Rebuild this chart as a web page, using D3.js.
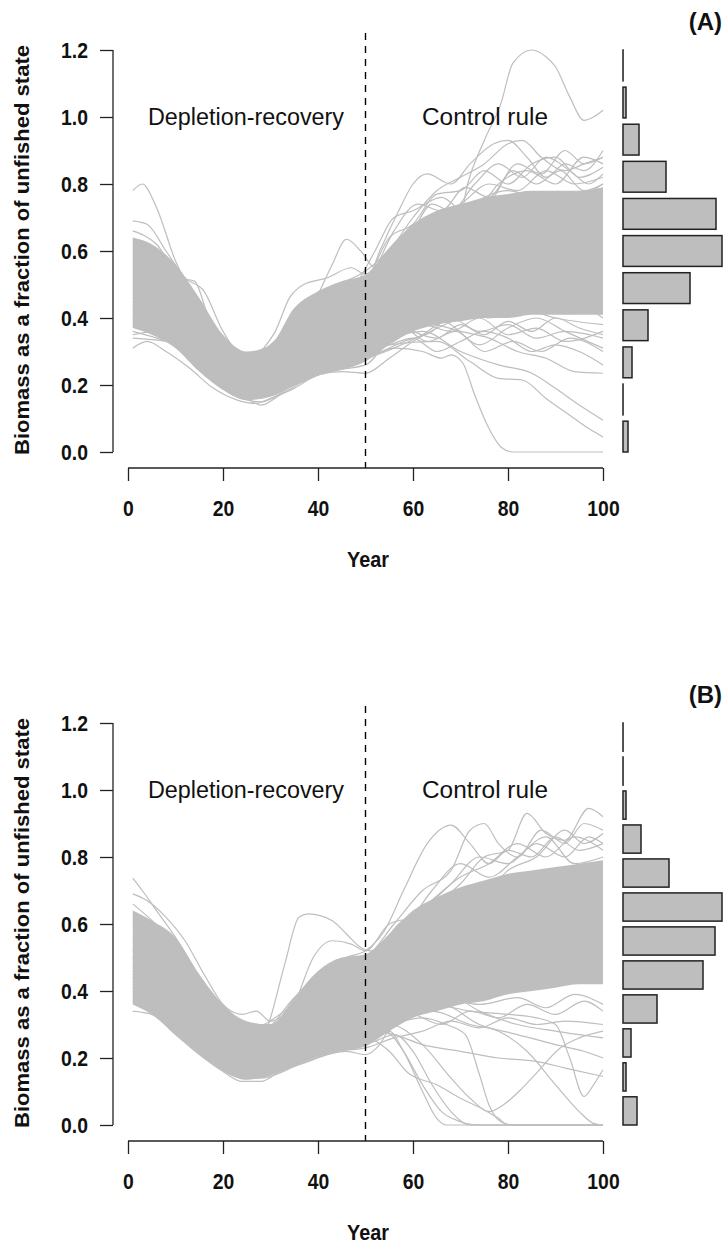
<!DOCTYPE html>
<html>
<head>
<meta charset="utf-8">
<script src="https://cdn.jsdelivr.net/npm/d3@7"></script>
<style>
  body { margin: 0; background: #fff; }
  svg { display: block; }
  text { font-family: "Liberation Sans", Arial, sans-serif; }
</style>
</head>
<body>
<svg id="chart" width="727" height="1245"></svg>
<script>
// ---- data ----
const knotYears = [1, 5, 10, 15, 20, 25, 30, 35, 40, 45, 50, 55, 60, 65, 70, 75, 80, 85, 90, 95, 100];
const yTicks = [0, 0.2, 0.4, 0.6, 0.8, 1.0, 1.2];
const xTicks = [0, 20, 40, 60, 80, 100];

// dense core of the trajectories (panel A)
const coreLowA  = [0.37, 0.35, 0.31, 0.24, 0.185, 0.155, 0.165, 0.20, 0.23, 0.245, 0.27, 0.32, 0.36, 0.38, 0.39, 0.40, 0.40, 0.41, 0.41, 0.41, 0.41];
const coreHighA = [0.64, 0.62, 0.56, 0.46, 0.35, 0.30, 0.32, 0.43, 0.48, 0.51, 0.53, 0.61, 0.68, 0.72, 0.74, 0.76, 0.77, 0.78, 0.78, 0.78, 0.79];

// visible individual runs, [year, biomass]
const runsA = [
  [[1,0.78],[3,0.80],[6,0.73],[10,0.57],[15,0.44],[20,0.33],[25,0.27],[30,0.30],[40,0.42],[50,0.50],[60,0.60],[70,0.66],[80,0.68],[90,0.64],[100,0.66]],
  [[1,0.69],[4,0.68],[8,0.60],[12,0.52],[16,0.48],[20,0.36],[25,0.28],[30,0.30],[40,0.45],[50,0.48],[60,0.55],[70,0.62],[80,0.70],[90,0.72],[100,0.70]],
  [[1,0.66],[6,0.62],[11,0.52],[14,0.51],[17,0.40],[22,0.30],[26,0.28],[30,0.32],[40,0.47],[50,0.52],[60,0.62],[70,0.72],[80,0.78],[90,0.74],[100,0.80]],
  [[1,0.31],[4,0.33],[8,0.30],[13,0.25],[18,0.19],[23,0.155],[27,0.145],[30,0.16],[35,0.19],[40,0.23],[45,0.24],[50,0.235],[55,0.28],[60,0.33],[70,0.40],[80,0.44],[90,0.40],[100,0.38]],
  [[1,0.36],[6,0.34],[10,0.32],[15,0.25],[20,0.19],[25,0.16],[28,0.14],[32,0.17],[38,0.22],[44,0.26],[50,0.28],[56,0.31],[62,0.30],[66,0.28],[68,0.29],[70.5,0.265],[73,0.17],[76,0.07],[78.5,0.015],[81,0.0],[90,0.0],[100,0.0]],
  [[1,0.55],[10,0.45],[20,0.28],[25,0.25],[30,0.29],[35,0.36],[40,0.47],[43,0.56],[46,0.635],[49,0.60],[52,0.55],[56,0.58],[60,0.66],[70,0.72],[80,0.74],[90,0.70],[100,0.72]],
  [[1,0.50],[10,0.42],[20,0.27],[24,0.24],[28,0.30],[31,0.36],[34,0.46],[37,0.50],[42,0.52],[47,0.55],[50,0.53],[55,0.60],[60,0.70],[65,0.78],[70,0.82],[75,0.86],[80,0.92],[83,0.93],[87,0.88],[92,0.84],[96,0.86],[100,0.88]],
  [[1,0.45],[10,0.38],[20,0.24],[26,0.20],[35,0.30],[45,0.40],[50,0.45],[56,0.52],[62,0.60],[66,0.64],[69,0.64],[71.5,0.80],[75,0.93],[78.5,1.04],[81,1.16],[85,1.20],[88,1.18],[90,1.15],[93,1.06],[96,0.99],[98,1.00],[100,1.02]],
  [[1,0.60],[10,0.50],[20,0.30],[25,0.26],[30,0.30],[40,0.46],[50,0.50],[53,0.60],[57,0.72],[60,0.80],[63,0.83],[68,0.80],[72,0.86],[77,0.92],[80,0.93],[84,0.88],[88,0.82],[92,0.86],[96,0.84],[100,0.90]],
  [[1,0.58],[10,0.48],[20,0.30],[25,0.26],[30,0.28],[40,0.44],[50,0.51],[55,0.64],[60,0.68],[65,0.77],[70,0.78],[75,0.84],[80,0.80],[85,0.86],[90,0.88],[95,0.82],[100,0.85]],
  [[1,0.52],[10,0.44],[20,0.28],[28,0.22],[40,0.40],[48,0.50],[52,0.60],[56,0.70],[60,0.72],[66,0.76],[72,0.70],[78,0.80],[84,0.84],[90,0.80],[96,0.88],[100,0.86]],
  [[1,0.40],[10,0.34],[20,0.20],[25,0.17],[30,0.18],[40,0.25],[50,0.30],[55,0.32],[60,0.34],[65,0.30],[70,0.33],[75,0.36],[80,0.34],[85,0.30],[90,0.32],[95,0.30],[100,0.26]],
  [[1,0.42],[10,0.35],[20,0.21],[27,0.16],[35,0.21],[45,0.26],[52,0.30],[58,0.36],[64,0.38],[70,0.36],[76,0.34],[82,0.30],[88,0.28],[94,0.24],[100,0.235]],
  [[1,0.40],[10,0.33],[20,0.20],[25,0.17],[35,0.22],[45,0.28],[55,0.34],[62,0.36],[70,0.30],[78,0.26],[85,0.235],[90,0.19],[95,0.14],[100,0.095]],
  [[1,0.38],[10,0.32],[20,0.19],[26,0.16],[35,0.20],[45,0.26],[55,0.32],[65,0.33],[72,0.27],[78,0.22],[83,0.215],[88,0.16],[93,0.11],[97,0.07],[100,0.045]],
  [[1,0.44],[10,0.36],[20,0.22],[30,0.20],[40,0.26],[50,0.28],[56,0.31],[62,0.35],[68,0.40],[74,0.36],[80,0.38],[86,0.34],[92,0.36],[100,0.34]],
  [[1,0.62],[8,0.58],[15,0.42],[22,0.30],[28,0.27],[35,0.38],[42,0.48],[50,0.54],[58,0.64],[64,0.70],[70,0.74],[76,0.80],[82,0.78],[88,0.84],[94,0.80],[100,0.82]],
  [[1,0.34],[8,0.33],[15,0.26],[22,0.17],[28,0.15],[35,0.20],[42,0.24],[50,0.26],[56,0.36],[62,0.42],[68,0.38],[74,0.32],[80,0.37],[86,0.40],[92,0.36],[100,0.31]],
  [[1,0.48],[10,0.40],[20,0.26],[30,0.25],[40,0.38],[50,0.46],[55,0.55],[60,0.66],[64,0.74],[68,0.72],[73,0.80],[78,0.86],[83,0.82],[88,0.88],[93,0.84],[97,0.80],[100,0.83]],
  [[1,0.53],[10,0.44],[20,0.27],[30,0.27],[40,0.40],[50,0.49],[56,0.66],[61,0.74],[66,0.72],[71,0.79],[76,0.76],[81,0.84],[86,0.80],[91,0.84],[96,0.78],[100,0.80]],
  [[1,0.46],[10,0.38],[20,0.24],[30,0.24],[40,0.36],[50,0.42],[55,0.40],[60,0.36],[65,0.34],[70,0.38],[75,0.35],[80,0.39],[85,0.36],[90,0.40],[95,0.37],[100,0.35]],
  [[1,0.43],[10,0.36],[20,0.22],[30,0.22],[40,0.32],[50,0.36],[56,0.34],[62,0.38],[68,0.36],[74,0.40],[80,0.35],[86,0.37],[92,0.33],[100,0.36]],
  [[1,0.57],[10,0.47],[20,0.30],[30,0.28],[40,0.43],[50,0.48],[58,0.56],[64,0.62],[70,0.70],[76,0.74],[82,0.86],[87,0.83],[92,0.90],[96,0.86],[100,0.88]],
  [[1,0.41],[10,0.34],[20,0.21],[30,0.21],[40,0.30],[50,0.33],[57,0.38],[63,0.33],[69,0.36],[75,0.30],[81,0.33],[87,0.30],[93,0.34],[100,0.30]],
  [[1,0.35],[6,0.36],[12,0.30],[18,0.22],[24,0.17],[30,0.17],[38,0.24],[46,0.26],[52,0.29],[58,0.33],[64,0.36],[70,0.44],[76,0.40],[82,0.44],[88,0.42],[94,0.44],[100,0.40]]
];

// histogram of final biomass (panel A), bins of 0.1 from 0
const histCountsA = [5, 0, 9, 25, 67, 99, 93, 43, 16, 3, 0];

// panel B
const coreLowB  = [0.36, 0.33, 0.27, 0.21, 0.16, 0.135, 0.15, 0.175, 0.205, 0.22, 0.235, 0.28, 0.32, 0.34, 0.36, 0.37, 0.39, 0.40, 0.41, 0.42, 0.42];
const coreHighB = [0.64, 0.61, 0.56, 0.45, 0.36, 0.31, 0.30, 0.38, 0.46, 0.50, 0.51, 0.57, 0.64, 0.68, 0.71, 0.73, 0.75, 0.76, 0.77, 0.78, 0.79];

const runsB = [
  [[1,0.737],[3,0.70],[6,0.64],[10,0.56],[13,0.49],[16,0.42],[20,0.35],[25,0.30],[30,0.30],[40,0.45],[50,0.50],[60,0.60],[70,0.66],[80,0.70],[90,0.72],[100,0.74]],
  [[1,0.69],[4,0.67],[8,0.62],[12,0.55],[16,0.45],[20,0.36],[24,0.33],[27,0.34],[30,0.31],[40,0.44],[50,0.49],[60,0.58],[70,0.64],[80,0.68],[90,0.70],[100,0.68]],
  [[1,0.50],[10,0.40],[20,0.24],[25,0.20],[28,0.24],[30,0.32],[33,0.48],[36,0.62],[38,0.63],[43,0.61],[46,0.57],[49,0.53],[51,0.52],[55,0.54],[60,0.58],[70,0.64],[80,0.66],[90,0.62],[100,0.64]],
  [[1,0.48],[10,0.38],[20,0.23],[26,0.21],[30,0.26],[35,0.36],[39,0.50],[43,0.55],[47,0.54],[50,0.52],[55,0.60],[60,0.62],[65,0.66],[70,0.72],[75,0.80],[80,0.82],[84,0.93],[88,0.87],[92,0.85],[97,0.945],[100,0.92]],
  [[1,0.55],[10,0.45],[20,0.30],[26,0.26],[32,0.30],[40,0.44],[46,0.50],[50,0.52],[54,0.58],[58,0.70],[63,0.84],[68,0.895],[72,0.84],[76,0.78],[80,0.82],[85,0.80],[90,0.86],[95,0.82],[100,0.84]],
  [[1,0.66],[10,0.54],[20,0.34],[28,0.28],[35,0.38],[42,0.47],[50,0.50],[56,0.60],[62,0.70],[68,0.76],[72,0.88],[75,0.90],[78,0.84],[82,0.80],[87,0.88],[92,0.84],[96,0.90],[100,0.88]],
  [[1,0.62],[10,0.52],[20,0.33],[26,0.29],[33,0.34],[42,0.45],[50,0.48],[57,0.60],[63,0.66],[70,0.74],[76,0.78],[82,0.84],[88,0.80],[94,0.86],[100,0.82]],
  [[1,0.34],[5,0.33],[10,0.27],[15,0.21],[20,0.16],[24,0.13],[28,0.13],[32,0.16],[38,0.19],[42,0.21],[46,0.22],[50,0.21],[53,0.24],[55,0.28],[58,0.22],[62,0.10],[65,0.02],[67,0.0],[80,0.0],[100,0.0]],
  [[1,0.38],[10,0.30],[20,0.18],[26,0.14],[35,0.18],[45,0.23],[50,0.26],[54,0.28],[58,0.22],[62,0.12],[66,0.04],[70,0.01],[72,0.0],[100,0.0]],
  [[1,0.40],[10,0.32],[20,0.19],[27,0.15],[35,0.19],[45,0.24],[50,0.26],[55,0.22],[59,0.155],[65,0.12],[70,0.08],[75,0.045],[78,0.02],[80,0.0],[100,0.0]],
  [[1,0.44],[10,0.35],[20,0.21],[28,0.16],[38,0.22],[48,0.27],[55,0.30],[62,0.32],[67,0.30],[71,0.27],[74,0.15],[76,0.06],[78.5,0.01],[81,0.0],[100,0.0]],
  [[1,0.42],[10,0.34],[20,0.20],[28,0.16],[38,0.22],[48,0.26],[55,0.30],[62,0.24],[68,0.14],[72,0.08],[76,0.04],[79,0.06],[83,0.11],[86,0.155],[91,0.23],[95,0.26],[100,0.28]],
  [[1,0.45],[10,0.36],[20,0.22],[28,0.17],[38,0.23],[48,0.28],[56,0.34],[64,0.36],[72,0.34],[80,0.33],[86,0.32],[90,0.30],[93,0.20],[96,0.085],[98,0.12],[100,0.165]],
  [[1,0.43],[10,0.35],[20,0.21],[28,0.16],[38,0.22],[48,0.27],[56,0.32],[64,0.34],[72,0.30],[78,0.28],[84,0.22],[90,0.12],[95,0.04],[98,0.005],[100,0.0]],
  [[1,0.46],[10,0.37],[20,0.22],[30,0.18],[40,0.25],[50,0.27],[58,0.34],[66,0.36],[74,0.30],[82,0.27],[90,0.24],[96,0.22],[100,0.20]],
  [[1,0.47],[10,0.38],[20,0.23],[30,0.19],[40,0.26],[50,0.28],[56,0.27],[62,0.24],[70,0.22],[78,0.20],[86,0.19],[92,0.17],[100,0.145]],
  [[1,0.50],[10,0.40],[20,0.25],[30,0.21],[40,0.27],[50,0.30],[58,0.36],[66,0.40],[74,0.34],[82,0.30],[90,0.28],[100,0.26]],
  [[1,0.39],[10,0.31],[20,0.19],[27,0.14],[36,0.19],[46,0.23],[52,0.25],[56,0.27],[60,0.22],[64,0.12],[68,0.04],[71,0.005],[74,0.0],[100,0.0]],
  [[1,0.60],[10,0.50],[20,0.32],[30,0.29],[40,0.44],[50,0.49],[56,0.56],[62,0.64],[68,0.72],[74,0.80],[80,0.78],[86,0.84],[92,0.80],[97,0.86],[100,0.84]],
  [[1,0.56],[10,0.46],[20,0.30],[30,0.27],[40,0.42],[50,0.47],[58,0.58],[64,0.70],[70,0.78],[76,0.74],[82,0.80],[88,0.86],[94,0.78],[100,0.80]],
  [[1,0.52],[10,0.42],[20,0.27],[30,0.24],[40,0.38],[50,0.44],[58,0.50],[66,0.58],[72,0.62],[80,0.76],[86,0.80],[92,0.88],[96,0.84],[100,0.87]],
  [[1,0.41],[10,0.33],[20,0.20],[30,0.18],[40,0.26],[50,0.30],[58,0.34],[66,0.30],[72,0.34],[78,0.32],[84,0.36],[90,0.33],[96,0.37],[100,0.34]],
  [[1,0.44],[10,0.35],[20,0.21],[30,0.20],[40,0.28],[50,0.32],[58,0.36],[66,0.38],[74,0.36],[82,0.38],[88,0.35],[94,0.39],[100,0.36]],
  [[1,0.37],[10,0.29],[20,0.17],[28,0.14],[36,0.18],[44,0.22],[50,0.23],[56,0.26],[62,0.28],[68,0.31],[74,0.29],[80,0.32],[86,0.30],[92,0.31],[100,0.30]]
];

const histCountsB = [14, 3, 8, 34, 80, 92, 99, 46, 18, 3, 0, 0];

// ---- drawing ----
const svg = d3.select("#chart");
const grey = "#bebebe";

const x = d3.scaleLinear().domain([0, 100]).range([128, 603]);

// no narrow font installed: squeeze glyphs to mimic Arial Narrow
function squeeze(sel, f) {
  sel.each(function () {
    const w = this.getComputedTextLength();
    d3.select(this).attr("textLength", w * f).attr("lengthAdjust", "spacingAndGlyphs");
  });
}

function drawPanel(top, label, coreLow, coreHigh, runs, histCounts) {
  const g = svg.append("g").attr("transform", `translate(0, ${top})`);
  const y = d3.scaleLinear().domain([0, 1.2]).range([452, 50]);

  // dense core
  const core = knotYears.map((yr, i) => ({yr, lo: coreLow[i], hi: coreHigh[i]}));
  g.append("path")
    .datum(core)
    .attr("fill", grey)
    .attr("d", d3.area().x(d => x(d.yr)).y0(d => y(d.lo)).y1(d => y(d.hi)).curve(d3.curveMonotoneX));

  // single runs
  const line = d3.line().x(d => x(d[0])).y(d => y(d[1])).curve(d3.curveMonotoneX);
  g.selectAll(".run")
    .data(runs)
    .enter()
    .append("path")
    .attr("class", "run")
    .attr("fill", "none")
    .attr("stroke", grey)
    .attr("stroke-width", 1.2)
    .attr("d", line);

  // phase divider
  g.append("line")
    .attr("x1", x(50)).attr("x2", x(50))
    .attr("y1", 33).attr("y2", 468)
    .attr("stroke", "#000")
    .attr("stroke-width", 1.4)
    .attr("stroke-dasharray", "7,6");

  // axes
  g.append("g")
    .attr("transform", "translate(113, 0)")
    .call(d3.axisLeft(y).tickValues(yTicks).tickFormat(d3.format(".1f")).tickSize(13).tickPadding(12))
    .call(a => a.select(".domain").attr("d", `M0,${y(0)}V${y(1.2)}`));

  g.append("g")
    .attr("transform", "translate(0, 468)")
    .call(d3.axisBottom(x).tickValues(xTicks).tickSize(13).tickPadding(19))
    .call(a => a.select(".domain").attr("d", `M${x(0)},0H${x(100)}`));

  g.selectAll(".tick text")
    .attr("font-family", "'Liberation Sans', Arial, sans-serif")
    .attr("font-size", 22)
    .attr("font-weight", "bold")
    .attr("fill", "#111")
    .call(squeeze, 0.88);
  g.selectAll(".domain, .tick line").attr("stroke", "#222").attr("stroke-width", 1.3);

  // labels
  g.append("text")
    .attr("x", 246).attr("y", 125)
    .attr("text-anchor", "middle")
    .attr("font-size", 23)
    .attr("fill", "#111")
    .attr("textLength", 196).attr("lengthAdjust", "spacingAndGlyphs")
    .text("Depletion-recovery");
  g.append("text")
    .attr("x", 485).attr("y", 125)
    .attr("text-anchor", "middle")
    .attr("font-size", 23)
    .attr("fill", "#111")
    .attr("textLength", 126).attr("lengthAdjust", "spacingAndGlyphs")
    .text("Control rule");
  g.append("text")
    .attr("x", 368).attr("y", 567)
    .attr("text-anchor", "middle")
    .attr("font-size", 22)
    .attr("font-weight", "bold")
    .attr("fill", "#111")
    .text("Year")
    .call(squeeze, 0.9);
  g.append("text")
    .attr("transform", "translate(29, 250) rotate(-90)")
    .attr("text-anchor", "middle")
    .attr("font-size", 21)
    .attr("font-weight", "bold")
    .attr("fill", "#111")
    .attr("textLength", 410).attr("lengthAdjust", "spacingAndGlyphs")
    .text("Biomass as a fraction of unfished state");
  g.append("text")
    .attr("x", 722).attr("y", 30)
    .attr("text-anchor", "end")
    .attr("font-size", 24)
    .attr("font-weight", "bold")
    .attr("fill", "#111")
    .text(label);

  // histogram of final values; empty bins still show their outline
  const bins = histCounts.map((c, i) => ({bin: i, count: c}));
  const hy = d3.scaleBand().domain(bins.map(d => d.bin)).range([452, 50]).paddingInner(0.17).paddingOuter(0);
  const hx = d3.scaleLinear().domain([0, d3.max(histCounts)]).range([0, 99]);
  g.selectAll(".bar")
    .data(bins)
    .enter()
    .append("rect")
    .attr("class", "bar")
    .attr("x", 623)
    .attr("y", d => hy(d.bin))
    .attr("width", d => Math.max(hx(d.count), 0.05))
    .attr("height", hy.bandwidth())
    .attr("fill", grey)
    .attr("stroke", "#222")
    .attr("stroke-width", 1.5);
}

drawPanel(0, "(A)", coreLowA, coreHighA, runsA, histCountsA);
drawPanel(673, "(B)", coreLowB, coreHighB, runsB, histCountsB);
</script>
</body>
</html>
